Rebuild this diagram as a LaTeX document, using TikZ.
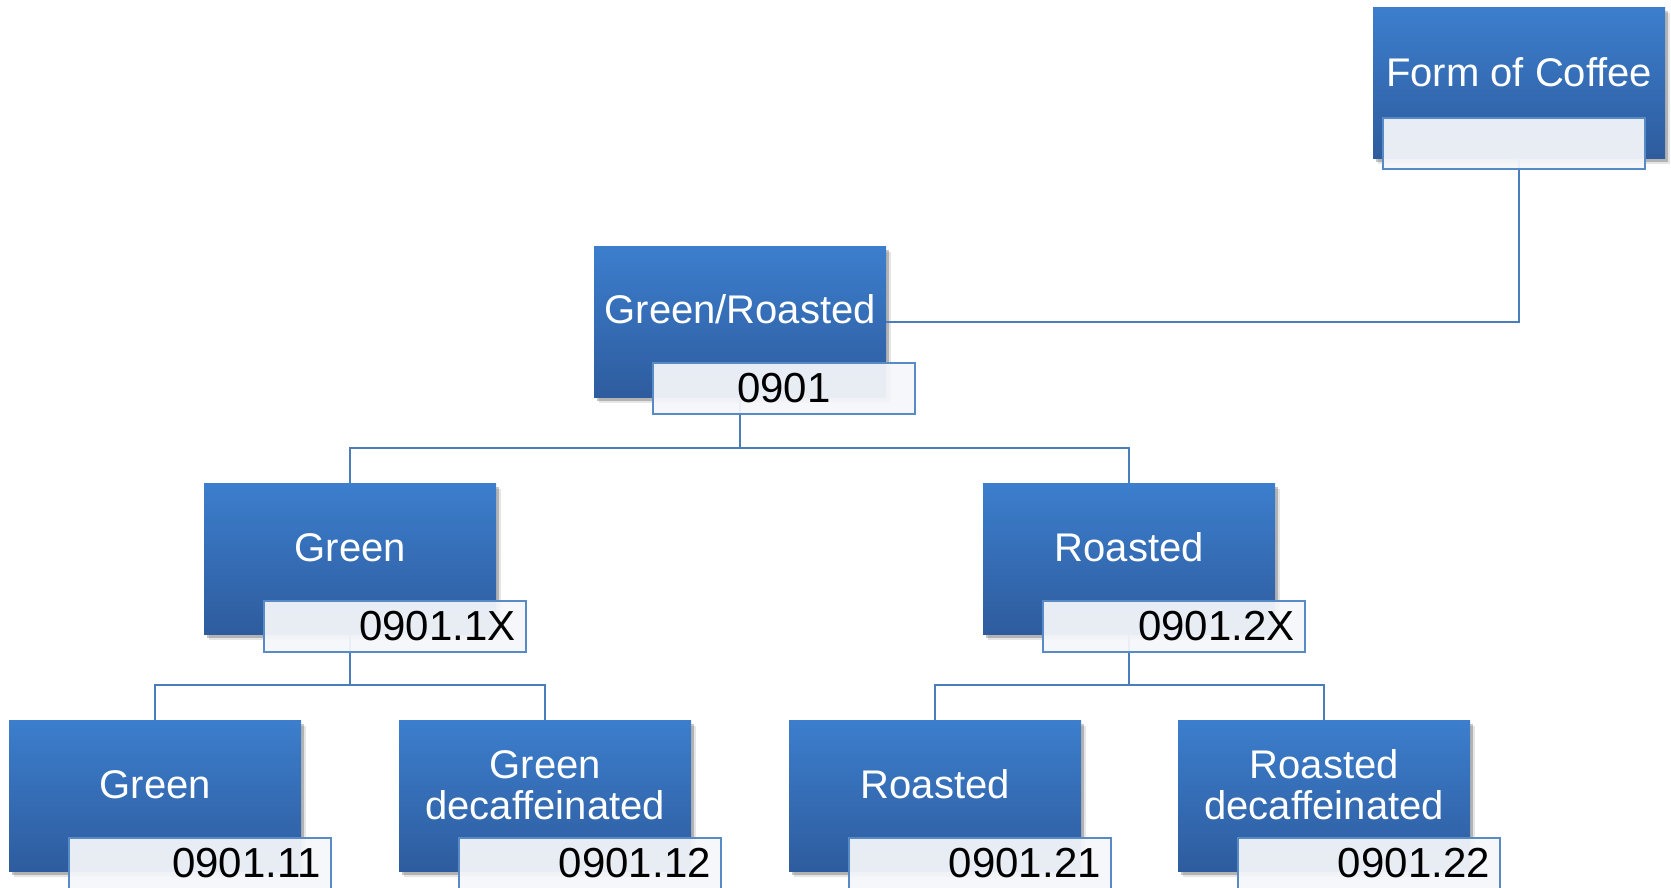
\documentclass[tikz,border=0pt]{standalone}
\usepackage{fontspec}
\setmainfont{Liberation Sans}
\usetikzlibrary{shadows,calc}
\definecolor{boxtop}{RGB}{60,126,205}
\definecolor{boxbot}{RGB}{46,92,158}
\definecolor{linkc}{RGB}{74,126,187}
\definecolor{labfill}{RGB}{244,246,250}
\definecolor{labdraw}{RGB}{88,138,198}

\begin{document}
\begin{tikzpicture}[x=1pt,y=-1pt,
  catbox/.style={rectangle, anchor=north west, minimum width=292pt,
    minimum height=151pt, inner sep=0pt, top color=boxtop,
    bottom color=boxbot, draw=none,
    drop shadow={shadow xshift=5pt,shadow yshift=-6pt,opacity=0.10,fill=black},
    drop shadow={shadow xshift=3pt,shadow yshift=-4pt,opacity=0.22,fill=black}},
  cattext/.style={text=white, font=\fontsize{40pt}{41pt}\selectfont,
    align=center, inner sep=0pt},
  codebox/.style={rectangle, anchor=north west, minimum width=262pt,
    minimum height=51pt, text width=242pt, inner xsep=10pt, inner ysep=0pt,
    align=right, fill=labfill, fill opacity=0.94, text opacity=1,
    draw=labdraw, line width=1.5pt, font=\fontsize{42pt}{43pt}\selectfont},
  link/.style={draw=linkc, line width=2pt}]

\useasboundingbox (0,0) rectangle (1671,887);

% category boxes
\node[catbox] (foc) at (1373,7) {};
\node[catbox] (gr)  at (594,246) {};
\node[catbox] (g)   at (204,483) {};
\node[catbox] (r)   at (983,483) {};
\node[catbox] (gg)  at (9,720) {};
\node[catbox] (gd)  at (399,720) {};
\node[catbox] (rr)  at (789,720) {};
\node[catbox] (rd)  at (1178,720) {};

% box titles
\node[cattext, anchor=base] (foc-t) at ($(foc.north)+(0,79)$) {Form of Coffee};
\node[cattext, anchor=base] (gr-t)  at ($(gr.north)+(0,77)$) {Green/Roasted};
\node[cattext, anchor=base] (g-t)   at ($(g.north)+(0,78)$) {Green};
\node[cattext, anchor=base] (r-t)   at ($(r.north)+(0,78)$) {Roasted};
\node[cattext, anchor=base] (gg-t)  at ($(gg.north)+(0,78)$) {Green};
\node[cattext] (gd-t) at ($(gd.north)+(0,65)$) {Green\\decaffeinated};
\node[cattext, anchor=base] (rr-t)  at ($(rr.north)+(0,78)$) {Roasted};
\node[cattext] (rd-t) at ($(rd.north)+(0,65)$) {Roasted\\decaffeinated};

% bus levels
\coordinate (bus2) at (0,448);
\coordinate (bus3) at (0,685);

% connectors
\draw[link] (foc.south) |- (gr.east);
\draw[link] (gr.south) -- (gr.south |- bus2) -| (g.north);
\draw[link] (gr.south |- bus2) -| (r.north);
\draw[link] (g.south) -- (g.south |- bus3) -| (gg.north);
\draw[link] (g.south |- bus3) -| (gd.north);
\draw[link] (r.south) -- (r.south |- bus3) -| (rr.north);
\draw[link] (r.south |- bus3) -| (rd.north);

% code labels
\node[codebox] (foc-c) at ($(foc.north west)+(9,110)$) {};
\node[codebox, align=center] (gr-c) at ($(gr.north west)+(58,116)$) {0901};
\node[codebox] (g-c)  at ($(g.north west)+(59,117)$) {0901.1X};
\node[codebox] (r-c)  at ($(r.north west)+(59,117)$) {0901.2X};
\node[codebox] (gg-c) at ($(gg.north west)+(59,117)$) {0901.11};
\node[codebox] (gd-c) at ($(gd.north west)+(59,117)$) {0901.12};
\node[codebox] (rr-c) at ($(rr.north west)+(59,117)$) {0901.21};
\node[codebox] (rd-c) at ($(rd.north west)+(59,117)$) {0901.22};
\end{tikzpicture}
\end{document}
